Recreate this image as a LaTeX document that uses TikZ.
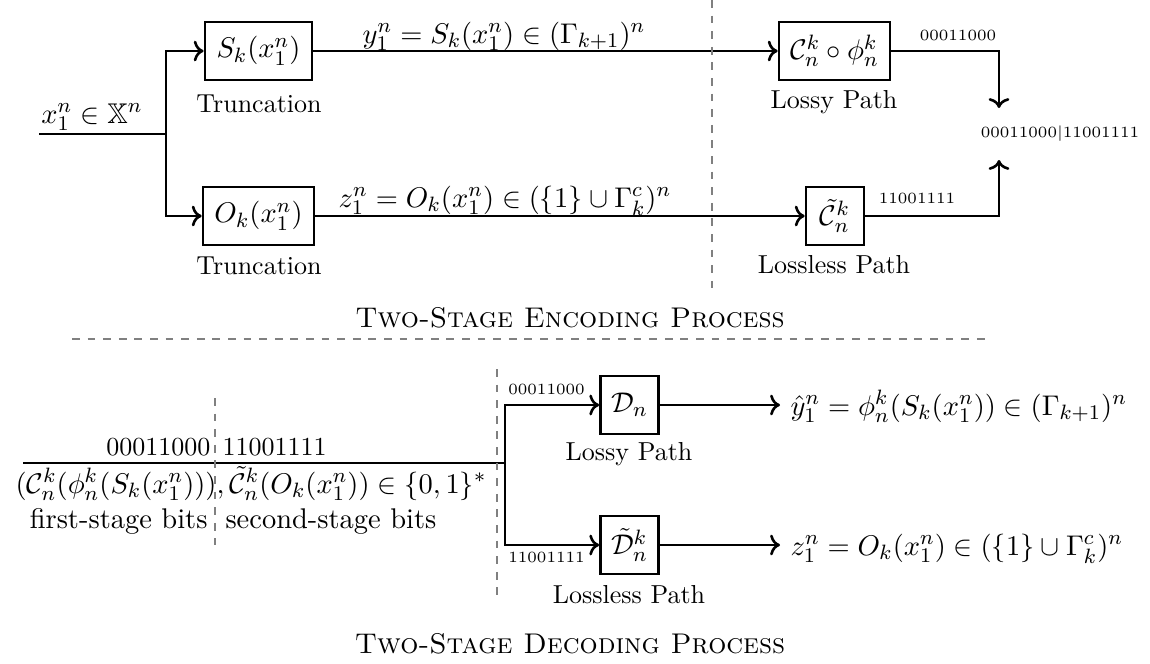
\documentclass[tikz,border=0pt]{standalone}
\usepackage{amssymb}
\usetikzlibrary{arrows.meta}
\begin{document}
\begin{tikzpicture}[x=0.3846pt,y=-0.3846pt,
  font=\fontsize{10.95}{13.6}\selectfont,
  blk/.style={draw,line width=1pt,minimum height=22.3pt,inner sep=1pt},
  conn/.style={line width=1pt},
  arr/.style={line width=1pt,->},
  sep/.style={gray,dashed,line width=0.9pt},
  lbl/.style={anchor=base,inner sep=0pt},
  small/.style={font=\fontsize{10}{12}\selectfont},
  tinylbl/.style={anchor=base,inner sep=0pt,font=\fontsize{6}{7}\selectfont}]
\useasboundingbox (0,0) rectangle (1150,664);

% ---------- encoder ----------
\coordinate (in) at (39,134);
\coordinate (br) at (166,134);
\node[blk,minimum width=41.2pt] (S) at (258.5,51) {$S_k(x_1^n)$};
\node[blk,minimum width=42.7pt] (O) at (258.5,216) {$O_k(x_1^n)$};
\node[blk,minimum width=42.7pt] (C) at (834.5,51) {$\mathcal{C}_n^k\circ\phi_n^k$};
\node[blk,minimum width=22.3pt] (Ct) at (835,216) {$\tilde{\mathcal{C}}_n^k$};
\node[tinylbl] (cat) at (1060,137) {00011000$|$11001111};
\coordinate (ja) at (999,108);
\coordinate (jb) at (999,160);

\draw[conn] (in) -- (br);
\draw[arr] (br) |- (S.west);
\draw[arr] (br) |- (O.west);
\draw[arr] (S.east) -- (C.west);
\draw[arr] (O.east) -- (Ct.west);
\draw[arr] (C.east) -| (ja);
\draw[arr] (Ct.east) -| (jb);

\node[lbl] (xl) at (92,123) {$x_1^n\in\mathbb{X}^n$};
\node[lbl,small] (t1) at (259,112) {Truncation};
\node[lbl,small] (t2) at (259,274) {Truncation};
\node[lbl] (yl) at (504,43) {$y_1^n=S_k(x_1^n)\in(\Gamma_{k+1})^n$};
\node[lbl] (zl) at (505,207) {$z_1^n=O_k(x_1^n)\in(\{1\}\cup\Gamma_k^c)^n$};
\node[lbl,small] (lp1) at (834,108) {Lossy Path};
\node[lbl,small] (ll1) at (834,273) {Lossless Path};
\node[tinylbl] (b1) at (958,40) {00011000};
\node[tinylbl] (b2) at (917,203) {11001111};
\node[lbl] (enc) at (570,327) {\textsc{Two-Stage Encoding Process}};
\draw[sep] (712,0) -- (712,288);
\draw[sep] (72,339) -- (986,339);

% ---------- decoder ----------
\coordinate (din) at (23,463);
\coordinate (dbr) at (505,463);
\node[blk,minimum width=22.3pt] (D) at (629.5,405) {$\mathcal{D}_n$};
\node[blk,minimum width=22.3pt] (Dt) at (629.5,545) {$\tilde{\mathcal{D}}_n^k$};
\node[anchor=base west,inner xsep=3.85pt,inner ysep=0pt] (yh) at (780,415) {$\hat y_1^n=\phi_n^k(S_k(x_1^n))\in(\Gamma_{k+1})^n$};
\node[anchor=base west,inner xsep=3.85pt,inner ysep=0pt] (zo) at (780,555) {$z_1^n=O_k(x_1^n)\in(\{1\}\cup\Gamma_k^c)^n$};

\draw[conn] (din) -- (dbr);
\draw[arr] (dbr) |- (D.west);
\draw[arr] (dbr) |- (Dt.west);
\draw[arr] (D.east) -- (D.east -| yh.west);
\draw[arr] (Dt.east) -- (Dt.east -| zo.west);

\node[anchor=base east,inner sep=0pt,small] (s1) at (211,455) {00011000};
\node[anchor=base west,inner sep=0pt,small] (s2) at (222,455) {11001111};
\node[lbl] (fm) at (251,493) {$(\mathcal{C}_n^k(\phi_n^k(S_k(x_1^n))),\tilde{\mathcal{C}}_n^k(O_k(x_1^n))\in\{0,1\}^*$};
\node[anchor=base east,inner sep=0pt] (f1) at (208,528) {first-stage bits};
\node[anchor=base west,inner sep=0pt] (f2) at (225,528) {second-stage bits};
\draw[sep] (215,398) -- (215,545);
\draw[sep] (497,369) -- (497,602);

\node[lbl,small] (lp2) at (629,460) {Lossy Path};
\node[lbl,small] (ll2) at (629,603) {Lossless Path};
\node[tinylbl] (b3) at (546.5,394) {00011000};
\node[tinylbl] (b4) at (546.5,562) {11001111};
\node[lbl] (dec) at (570,653) {\textsc{Two-Stage Decoding Process}};
\end{tikzpicture}
\end{document}
